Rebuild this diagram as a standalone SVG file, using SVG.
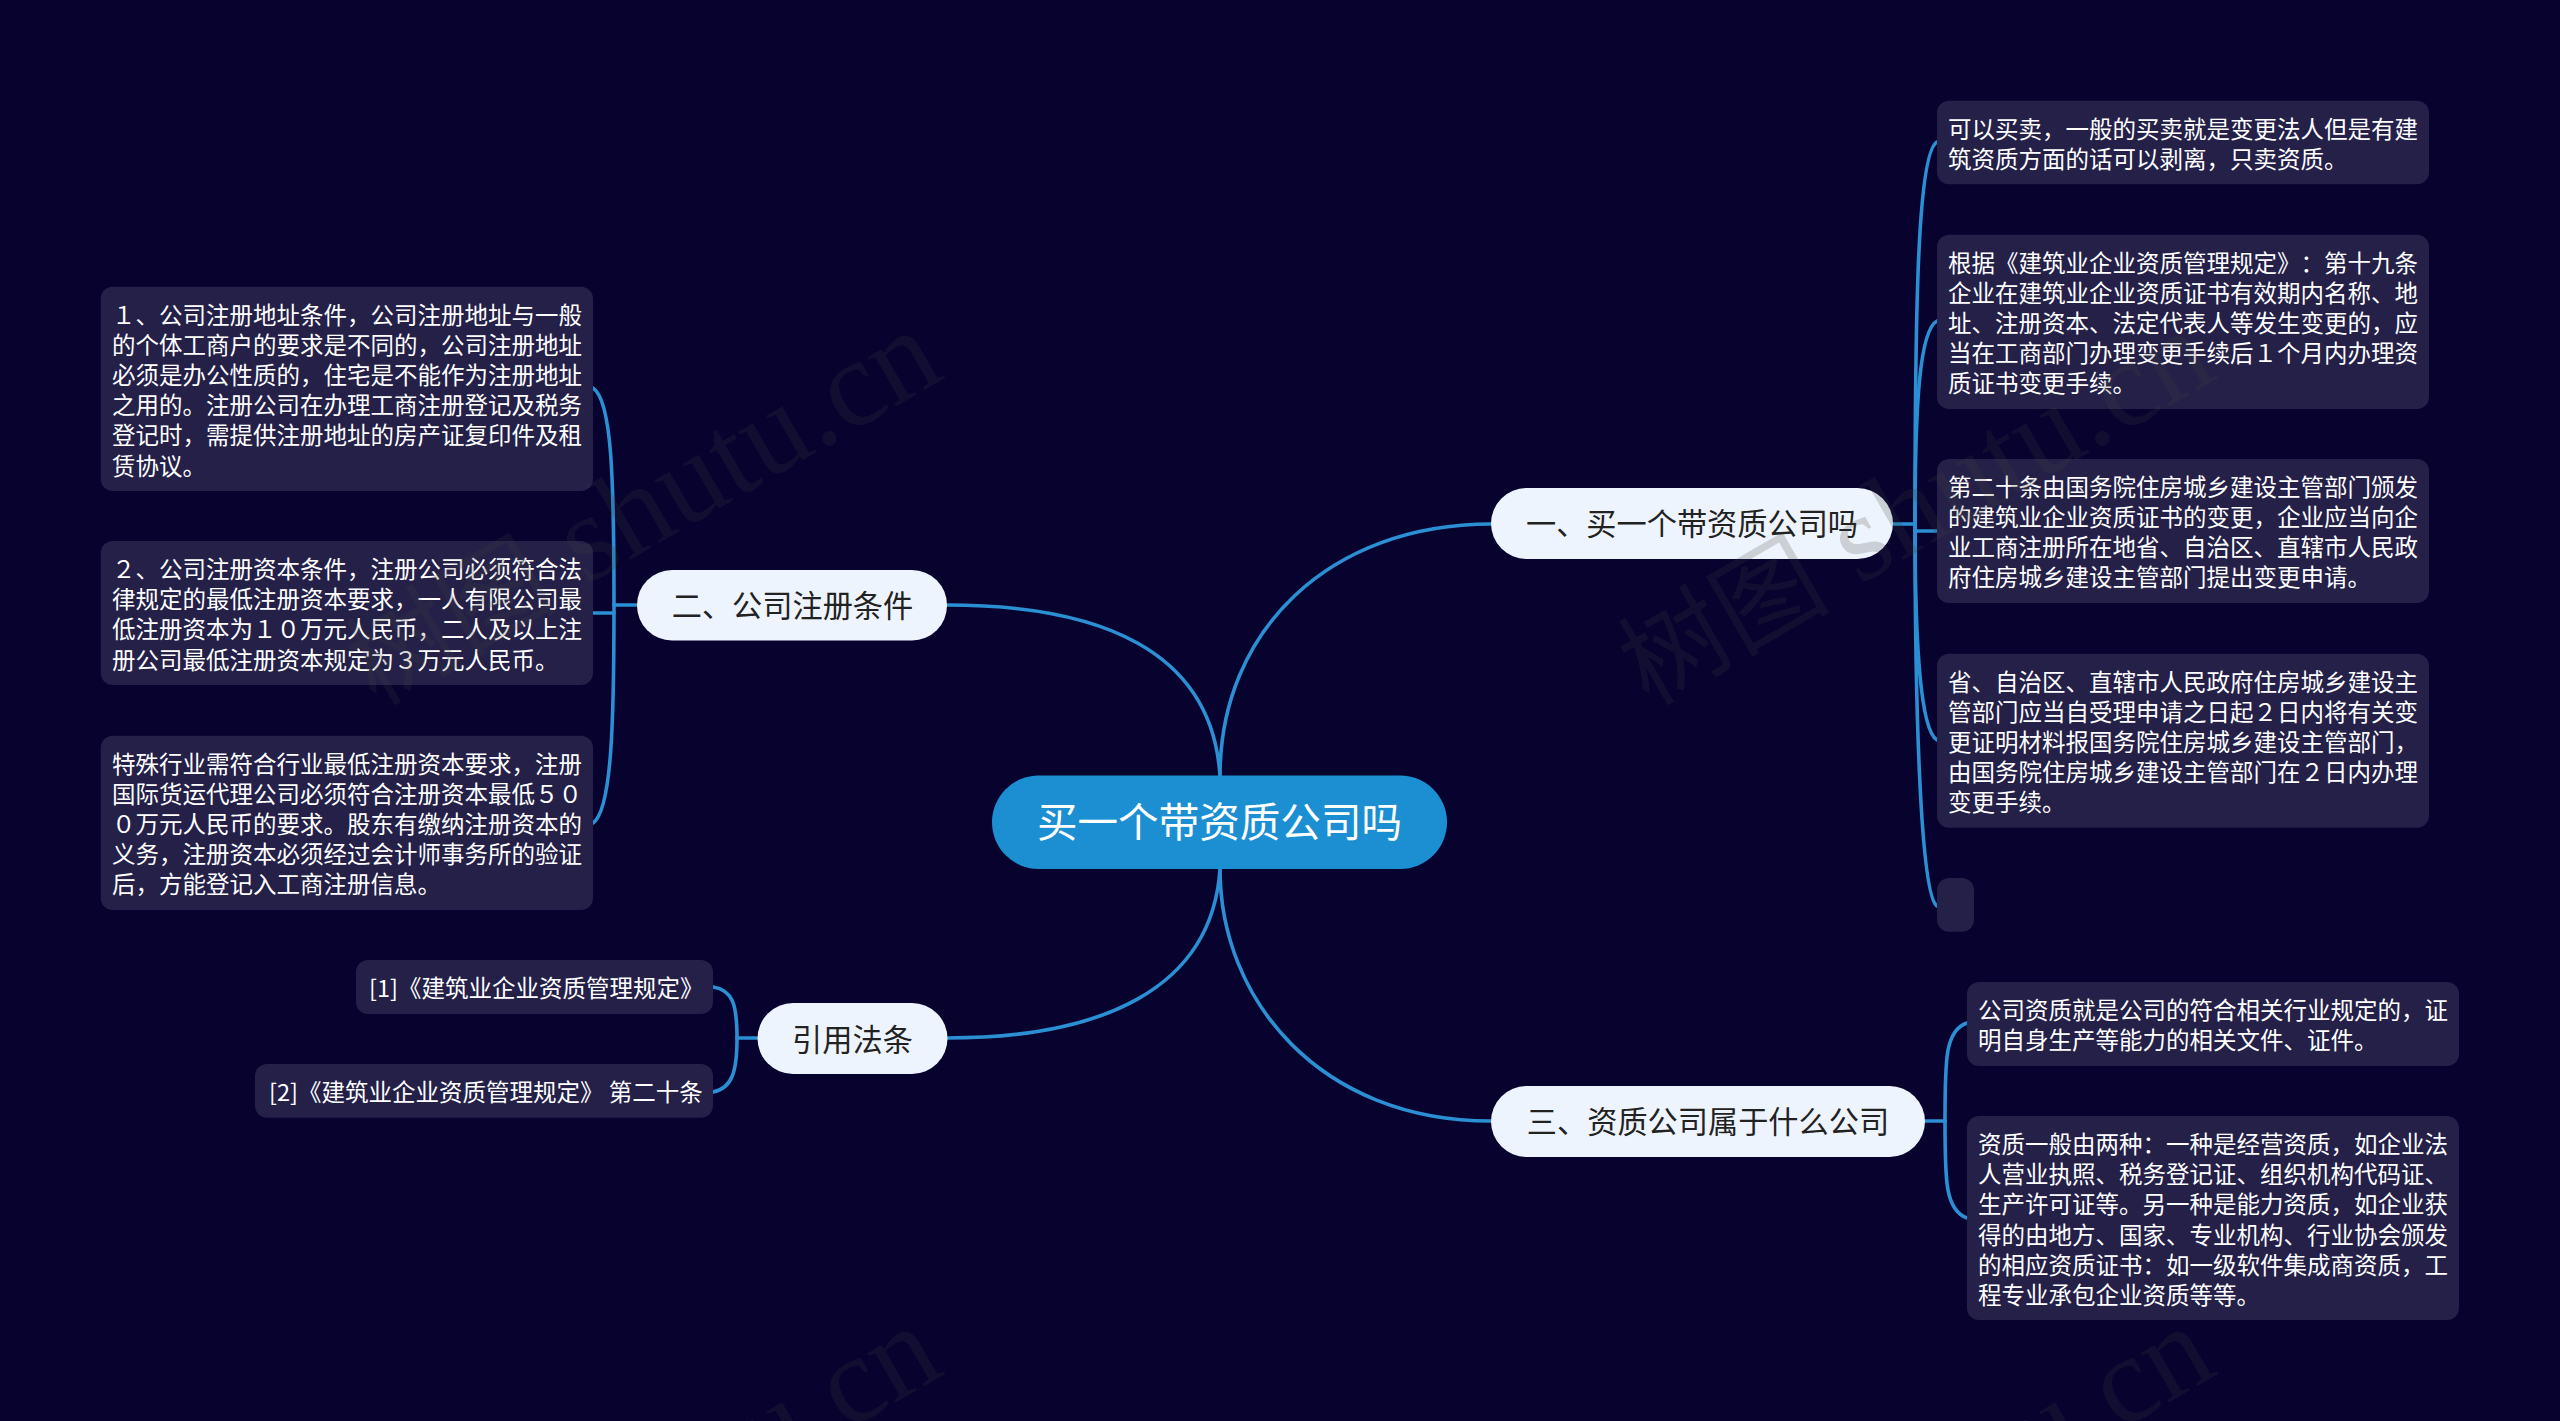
<svg xmlns="http://www.w3.org/2000/svg" width="2560" height="1421" viewBox="0 0 2560 1421">
<style>
text{font-family:"Noto Sans CJK SC","Noto Sans",sans-serif;text-spacing-trim:space-all}
.box{fill:#242048}
.t{font-size:23.5px;fill:#fff}
.pill{fill:#eef4fd}
.pt{font-size:30.2px;fill:#222;text-anchor:middle}
.c{fill:none;stroke:#2b8fd3;stroke-width:3.6;stroke-linecap:round}
.wm text{font-family:"Liberation Serif","Noto Sans CJK SC",serif;font-size:124px;fill:#424242;fill-opacity:.2;text-anchor:end}
.wm tspan.h{font-size:106px}
</style>
<rect width="2560" height="1421" fill="#07022e"/>
<g id="connectors" class="c">
<path d="M1220 776C1220 630 1330 524 1491 524"/>
<path d="M947 605C1100 605 1212 650 1220 776"/>
<path d="M1220 869C1220 1000 1320 1121 1491 1121"/>
<path d="M947 1038C1100 1038 1212 990 1220 869"/>
<path d="M1893 524H1915"/>
<path d="M1915 524C1915 300 1918 152 1937 142"/>
<path d="M1915 524C1915 400 1920 330 1937 321"/>
<path d="M1915 531H1937"/>
<path d="M1915 524C1915 640 1920 730 1937 740"/>
<path d="M1915 524C1915 700 1920 895 1937 906"/>
<path d="M1925 1121H1945"/>
<path d="M1945 1121C1945 1060 1945 1030 1967 1023"/>
<path d="M1945 1121C1945 1180 1945 1210 1967 1218"/>
<path d="M636 605H614"/>
<path d="M593 613H614"/>
<path d="M614 605C614 480 612 400 593 388"/>
<path d="M614 605C614 720 612 810 593 823"/>
<path d="M757 1038H737"/>
<path d="M737 1038C737 1005 733 990 713 987"/>
<path d="M737 1038C737 1070 733 1088 713 1092"/>
</g>
<g id="root"><rect x="992" y="775.5" width="455" height="93.5" rx="46.7" fill="#1b8fd2"/><text x="1219.500" y="836.500" font-size="40.600" fill="#fff" text-anchor="middle">买一个带资质公司吗</text></g>
<g id="n1"><rect class="pill" x="1491" y="488" width="402" height="71" rx="35.5"/><text class="pt" x="1692" y="534.500">一、买一个带资质公司吗</text></g>
<g id="n2"><rect class="pill" x="637" y="570" width="310" height="70.5" rx="35"/><text class="pt" x="792.500" y="617">二、公司注册条件</text></g>
<g id="n3"><rect class="pill" x="1491" y="1086" width="434" height="71" rx="35.5"/><text class="pt" x="1708" y="1133">三、资质公司属于什么公司</text></g>
<g id="n4"><rect class="pill" x="757.5" y="1003" width="190" height="71" rx="35.5"/><text class="pt" x="852.5" y="1051">引用法条</text></g>
<g id="b1"><rect class="box" x="1937" y="100.7" width="492" height="83.6" rx="12"/><text class="t" y="137.500"><tspan x="1948">可以买卖，一般的买卖就是变更法人但是有建</tspan><tspan x="1948" dy="30.2">筑资质方面的话可以剥离，只卖资质。</tspan></text></g>
<g id="b2"><rect class="box" x="1937" y="234.7" width="492" height="174.3" rx="12"/><text class="t" y="271.500"><tspan x="1948">根据《建筑业企业资质管理规定》：第十九条</tspan><tspan x="1948" dy="30.2">企业在建筑业企业资质证书有效期内名称、地</tspan><tspan x="1948" dy="30.2">址、注册资本、法定代表人等发生变更的，应</tspan><tspan x="1948" dy="30.2">当在工商部门办理变更手续后１个月内办理资</tspan><tspan x="1948" dy="30.2">质证书变更手续。</tspan></text></g>
<g id="b3"><rect class="box" x="1937" y="459" width="492" height="144" rx="12"/><text class="t" y="495.500"><tspan x="1948">第二十条由国务院住房城乡建设主管部门颁发</tspan><tspan x="1948" dy="30.2">的建筑业企业资质证书的变更，企业应当向企</tspan><tspan x="1948" dy="30.2">业工商注册所在地省、自治区、直辖市人民政</tspan><tspan x="1948" dy="30.2">府住房城乡建设主管部门提出变更申请。</tspan></text></g>
<g id="b4"><rect class="box" x="1937" y="653.7" width="492" height="174" rx="12"/><text class="t" y="690.500"><tspan x="1948">省、自治区、直辖市人民政府住房城乡建设主</tspan><tspan x="1948" dy="30.2">管部门应当自受理申请之日起２日内将有关变</tspan><tspan x="1948" dy="30.2">更证明材料报国务院住房城乡建设主管部门，</tspan><tspan x="1948" dy="30.2">由国务院住房城乡建设主管部门在２日内办理</tspan><tspan x="1948" dy="30.2">变更手续。</tspan></text></g>
<g id="b5"><rect class="box" x="1937" y="878" width="37" height="53.7" rx="12"/></g>
<g id="b6"><rect class="box" x="1967" y="982" width="492" height="84" rx="12"/><text class="t" y="1019"><tspan x="1978">公司资质就是公司的符合相关行业规定的，证</tspan><tspan x="1978" dy="30.2">明自身生产等能力的相关文件、证件。</tspan></text></g>
<g id="b7"><rect class="box" x="1967" y="1116" width="492" height="204" rx="12"/><text class="t" y="1153"><tspan x="1978">资质一般由两种：一种是经营资质，如企业法</tspan><tspan x="1978" dy="30.2">人营业执照、税务登记证、组织机构代码证、</tspan><tspan x="1978" dy="30.2">生产许可证等。另一种是能力资质，如企业获</tspan><tspan x="1978" dy="30.2">得的由地方、国家、专业机构、行业协会颁发</tspan><tspan x="1978" dy="30.2">的相应资质证书：如一级软件集成商资质，工</tspan><tspan x="1978" dy="30.2">程专业承包企业资质等等。</tspan></text></g>
<g id="b8"><rect class="box" x="100.700" y="286.700" width="492.300" height="204.300" rx="12"/><text class="t" y="323.500"><tspan x="112">１、公司注册地址条件，公司注册地址与一般</tspan><tspan x="112" dy="30.2">的个体工商户的要求是不同的，公司注册地址</tspan><tspan x="112" dy="30.2">必须是办公性质的，住宅是不能作为注册地址</tspan><tspan x="112" dy="30.2">之用的。注册公司在办理工商注册登记及税务</tspan><tspan x="112" dy="30.2">登记时，需提供注册地址的房产证复印件及租</tspan><tspan x="112" dy="30.2">赁协议。</tspan></text></g>
<g id="b9"><rect class="box" x="100.700" y="541" width="492.300" height="144" rx="12"/><text class="t" y="578"><tspan x="112">２、公司注册资本条件，注册公司必须符合法</tspan><tspan x="112" dy="30.2">律规定的最低注册资本要求，一人有限公司最</tspan><tspan x="112" dy="30.2">低注册资本为１０万元人民币，二人及以上注</tspan><tspan x="112" dy="30.2">册公司最低注册资本规定为３万元人民币。</tspan></text></g>
<g id="b10"><rect class="box" x="100.700" y="735.700" width="492.300" height="174.300" rx="12"/><text class="t" y="772.500"><tspan x="112">特殊行业需符合行业最低注册资本要求，注册</tspan><tspan x="112" dy="30.2">国际货运代理公司必须符合注册资本最低５０</tspan><tspan x="112" dy="30.2">０万元人民币的要求。股东有缴纳注册资本的</tspan><tspan x="112" dy="30.2">义务，注册资本必须经过会计师事务所的验证</tspan><tspan x="112" dy="30.2">后，方能登记入工商注册信息。</tspan></text></g>
<g id="b11"><rect class="box" x="356" y="960" width="357" height="54" rx="12"/><text class="t" x="369" y="997">[1]《建筑业企业资质管理规定》</text></g>
<g id="b12"><rect class="box" x="255" y="1064" width="458" height="53.700" rx="12"/><text class="t" x="269" y="1101">[2]《建筑业企业资质管理规定》 第二十条</text></g>
<g id="watermark" class="wm">
<text transform="translate(947 377) rotate(-30)"><tspan class="h">树图</tspan> shutu.cn</text>
<text transform="translate(2220 377) rotate(-30)"><tspan class="h">树图</tspan> shutu.cn</text>
<text transform="translate(947 1373) rotate(-30)"><tspan class="h">树图</tspan> shutu.cn</text>
<text transform="translate(2220 1373) rotate(-30)"><tspan class="h">树图</tspan> shutu.cn</text>
</g>
</svg>
